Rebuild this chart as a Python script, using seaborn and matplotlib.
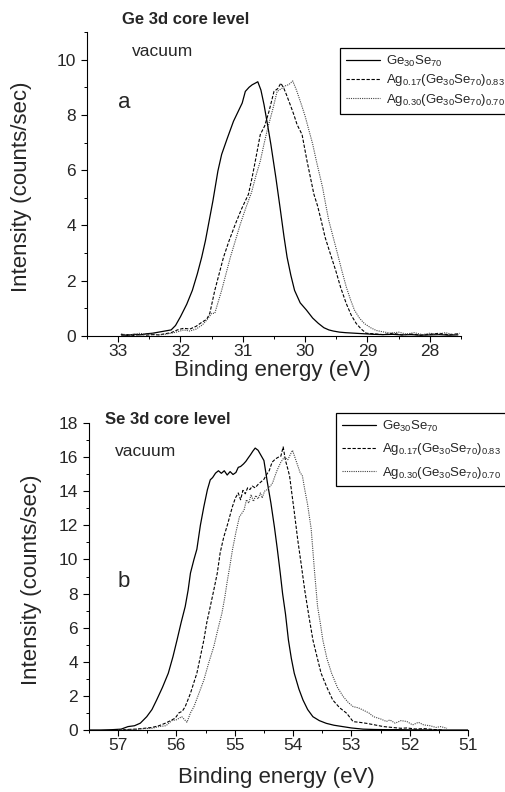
import matplotlib
matplotlib.use("Agg")
import matplotlib.pyplot as plt
from matplotlib.ticker import MultipleLocator
import numpy as np
import seaborn as sns

sns.set_style("ticks")
plt.rcParams['font.family'] = ['Liberation Sans', 'DejaVu Sans']
plt.rcParams['mathtext.fontset'] = 'custom'
plt.rcParams['mathtext.rm'] = 'Liberation Sans'

labels = [r'$\mathregular{Ge_{30}Se_{70}}$',
          r'$\mathregular{Ag_{0.17}(Ge_{30}Se_{70})_{0.83}}$',
          r'$\mathregular{Ag_{0.30}(Ge_{30}Se_{70})_{0.70}}$']

# ---- Ge 3d core level (panel a) ----
ge_x_0 = [32.95, 32.85, 32.75, 32.65, 32.55, 32.45, 32.35, 32.25, 32.15, 32.08,
          32.00, 31.90, 31.81, 31.73, 31.66, 31.60, 31.55, 31.48, 31.40, 31.34,
          31.25, 31.15, 31.08, 31.01, 30.96, 30.90, 30.85, 30.80, 30.76, 30.71,
          30.66, 30.60, 30.55, 30.47, 30.40, 30.34, 30.29, 30.23, 30.17, 30.08,
          29.98, 29.88, 29.79, 29.70, 29.62, 29.55, 29.45, 29.35, 29.20, 29.05,
          28.90, 28.75, 28.60, 28.45, 28.30, 28.15, 28.00, 27.85, 27.70, 27.55]
ge_y_0 = [0.05, 0.02, 0.06, 0.04, 0.08, 0.10, 0.14, 0.18, 0.22, 0.38,
          0.70, 1.15, 1.65, 2.25, 2.85, 3.45, 4.05, 4.89, 5.97, 6.57,
          7.15, 7.77, 8.10, 8.43, 8.85, 9.00, 9.09, 9.15, 9.20, 8.90,
          8.37, 7.60, 6.93, 5.73, 4.60, 3.60, 2.85, 2.20, 1.65, 1.20,
          0.94, 0.65, 0.46, 0.30, 0.22, 0.18, 0.14, 0.12, 0.10, 0.08,
          0.06, 0.05, 0.06, 0.04, 0.05, 0.03, 0.04, 0.05, 0.03, 0.04]

ge_x_1 = [32.95, 32.85, 32.75, 32.65, 32.55, 32.45, 32.35, 32.25, 32.15, 32.05,
          31.95, 31.85, 31.75, 31.65, 31.58, 31.53, 31.45, 31.38, 31.31, 31.22,
          31.12, 31.02, 30.91, 30.85, 30.80, 30.72, 30.65, 30.58, 30.50, 30.44,
          30.39, 30.34, 30.30, 30.24, 30.18, 30.13, 30.05, 29.97, 29.86, 29.80,
          29.74, 29.68, 29.60, 29.51, 29.43, 29.34, 29.26, 29.18, 29.10, 29.02,
          28.90, 28.75, 28.60, 28.45, 28.30, 28.15, 28.00, 27.85, 27.70, 27.55]
ge_y_1 = [0.03, 0.05, 0.02, 0.06, 0.03, 0.05, 0.04, 0.08, 0.12, 0.22,
          0.28, 0.25, 0.35, 0.51, 0.60, 0.82, 1.65, 2.25, 2.85, 3.45,
          4.05, 4.60, 5.13, 5.75, 6.33, 7.29, 7.60, 8.13, 8.85, 8.95,
          9.15, 8.95, 8.73, 8.37, 8.00, 7.65, 7.29, 6.33, 5.13, 4.70,
          4.15, 3.57, 3.00, 2.37, 1.75, 1.17, 0.75, 0.45, 0.25, 0.10,
          0.08, 0.05, 0.10, 0.04, 0.07, 0.03, 0.06, 0.10, 0.04, 0.08]

ge_x_2 = [32.95, 32.85, 32.75, 32.65, 32.55, 32.45, 32.35, 32.25, 32.15, 32.05,
          31.95, 31.85, 31.75, 31.65, 31.57, 31.50, 31.45, 31.40, 31.34, 31.27,
          31.20, 31.12, 31.04, 30.95, 30.86, 30.79, 30.72, 30.66, 30.60, 30.52,
          30.45, 30.38, 30.32, 30.26, 30.20, 30.14, 30.06, 30.00, 29.95, 29.88,
          29.82, 29.77, 29.72, 29.67, 29.62, 29.55, 29.48, 29.41, 29.34, 29.27,
          29.21, 29.13, 29.05, 28.95, 28.86, 28.75, 28.62, 28.50, 28.38, 28.25,
          28.12, 28.00, 27.88, 27.75, 27.62, 27.52]
ge_y_2 = [0.08, 0.03, 0.06, 0.10, 0.05, 0.08, 0.04, 0.06, 0.10, 0.15,
          0.22, 0.18, 0.25, 0.40, 0.60, 0.82, 0.82, 1.20, 1.65, 2.25,
          2.85, 3.45, 4.05, 4.65, 5.20, 5.80, 6.33, 6.95, 7.53, 8.20,
          8.85, 8.95, 9.05, 9.10, 9.23, 8.90, 8.37, 7.95, 7.53, 6.95,
          6.33, 5.85, 5.37, 4.75, 4.17, 3.57, 2.97, 2.35, 1.77, 1.30,
          0.94, 0.65, 0.45, 0.30, 0.20, 0.15, 0.10, 0.14, 0.07, 0.12,
          0.05, 0.10, 0.06, 0.12, 0.05, 0.10]

# ---- Se 3d core level (panel b) ----
se_x_0 = [57.50, 57.30, 57.10, 56.95, 56.83, 56.72, 56.62, 56.51, 56.42, 56.34,
          56.24, 56.14, 56.06, 55.99, 55.92, 55.85, 55.80, 55.76, 55.70, 55.65,
          55.59, 55.53, 55.47, 55.42, 55.38, 55.33, 55.28, 55.23, 55.18, 55.13,
          55.08, 55.03, 54.98, 54.94, 54.90, 54.85, 54.81, 54.77, 54.73, 54.69,
          54.65, 54.60, 54.55, 54.50, 54.44, 54.38, 54.32, 54.27, 54.22, 54.18,
          54.13, 54.08, 54.03, 53.98, 53.90, 53.83, 53.75, 53.66, 53.55, 53.43,
          53.30, 53.15, 53.00, 52.80, 52.60, 52.40, 52.20, 52.00, 51.80, 51.60,
          51.40, 51.20, 51.00]
se_y_0 = [0.00, 0.00, 0.02, 0.05, 0.20, 0.25, 0.40, 0.78, 1.20, 1.76,
          2.50, 3.33, 4.30, 5.28, 6.30, 7.24, 8.20, 9.20, 10.00, 10.60,
          12.00, 13.10, 14.08, 14.67, 14.80, 15.06, 15.20, 15.05, 15.20, 14.95,
          15.15, 14.98, 15.10, 15.40, 15.45, 15.60, 15.75, 15.95, 16.14, 16.35,
          16.53, 16.40, 16.10, 15.80, 14.50, 13.30, 11.90, 10.60, 9.20, 8.00,
          6.80, 5.28, 4.20, 3.33, 2.40, 1.76, 1.20, 0.78, 0.55, 0.39,
          0.28, 0.20, 0.12, 0.05, 0.03, 0.02, 0.02, 0.01, 0.01, 0.00,
          0.00, 0.00, 0.00]

se_x_1 = [57.00, 56.85, 56.70, 56.55, 56.42, 56.30, 56.19, 56.10, 56.02, 55.96,
          55.90, 55.85, 55.80, 55.76, 55.70, 55.65, 55.59, 55.53, 55.48, 55.42,
          55.36, 55.30, 55.25, 55.19, 55.12, 55.04, 54.99, 54.94, 54.90, 54.86,
          54.82, 54.78, 54.74, 54.70, 54.65, 54.60, 54.55, 54.50, 54.45, 54.41,
          54.36, 54.30, 54.25, 54.21, 54.17, 54.13, 54.09, 54.06, 54.03, 53.98,
          53.92, 53.86, 53.80, 53.73, 53.66, 53.59, 53.52, 53.42, 53.32, 53.20,
          53.08, 52.97, 52.86, 52.74, 52.60, 52.45, 52.30, 52.15, 52.05, 51.90,
          51.75, 51.60, 51.45]
se_y_1 = [0.00, 0.03, 0.05, 0.10, 0.15, 0.25, 0.40, 0.55, 0.70, 1.00,
          1.10, 1.37, 1.80, 2.15, 2.80, 3.33, 4.30, 5.28, 6.30, 7.24,
          8.20, 9.20, 10.40, 11.30, 12.10, 13.10, 13.60, 13.90, 13.50, 14.05,
          13.85, 14.20, 14.10, 14.30, 14.20, 14.40, 14.55, 14.70, 15.00, 15.20,
          15.70, 15.90, 16.00, 16.05, 16.60, 15.80, 15.30, 14.90, 14.10, 12.80,
          11.15, 9.70, 8.20, 6.70, 5.28, 4.30, 3.33, 2.50, 1.76, 1.30,
          0.98, 0.49, 0.45, 0.39, 0.30, 0.20, 0.15, 0.10, 0.12, 0.06,
          0.08, 0.03, 0.00]

se_x_2 = [57.00, 56.85, 56.70, 56.55, 56.42, 56.30, 56.18, 56.08, 56.00, 55.91,
          55.86, 55.82, 55.76, 55.70, 55.62, 55.53, 55.45, 55.36, 55.29, 55.22,
          55.17, 55.13, 55.08, 55.04, 54.98, 54.92, 54.84, 54.80, 54.76, 54.72,
          54.68, 54.64, 54.60, 54.56, 54.53, 54.49, 54.44, 54.39, 54.35, 54.31,
          54.27, 54.21, 54.15, 54.09, 54.04, 54.01, 53.96, 53.92, 53.88, 53.84,
          53.80, 53.75, 53.69, 53.63, 53.58, 53.53, 53.49, 53.42, 53.34, 53.24,
          53.14, 53.05, 52.97, 52.88, 52.80, 52.70, 52.62, 52.50, 52.40, 52.34,
          52.25, 52.15, 52.05, 51.95, 51.85, 51.76, 51.65, 51.55, 51.47, 51.36]
se_y_2 = [0.00, 0.02, 0.04, 0.08, 0.10, 0.20, 0.25, 0.55, 0.60, 0.78,
          0.60, 0.45, 1.00, 1.37, 2.10, 2.93, 3.90, 4.89, 5.90, 6.85,
          7.80, 8.70, 9.70, 10.56, 11.60, 12.50, 12.90, 13.50, 13.30, 13.80,
          13.40, 13.75, 13.55, 13.90, 13.60, 14.00, 14.10, 14.30, 14.50, 14.90,
          15.26, 15.70, 16.00, 15.85, 16.20, 16.40, 15.90, 15.50, 15.10, 14.90,
          14.10, 13.20, 11.80, 9.20, 7.24, 6.20, 5.28, 4.20, 3.33, 2.50,
          1.96, 1.60, 1.37, 1.30, 1.17, 1.00, 0.78, 0.65, 0.50, 0.59,
          0.40, 0.55, 0.50, 0.30, 0.45, 0.30, 0.25, 0.15, 0.20, 0.10]

styles = [dict(color="black", linestyle="-", linewidth=0.9),
          dict(color="black", linestyle=(0, (3, 1.5)), linewidth=0.8),
          dict(color="#444444", linestyle=(0, (1, 1)), linewidth=0.8)]

W, H = 505, 792
fig = plt.figure(figsize=(W / 100, H / 100), dpi=100)

panels = [
    dict(rect=[87 / W, 1 - 336 / H, 374 / W, 304 / H], xs=[ge_x_0, ge_x_1, ge_x_2],
         ys=[ge_y_0, ge_y_1, ge_y_2], xlim=(33.5, 27.5), ylim=(0, 11), ymax_tick=10,
         title="Ge 3d core level", title_xy=(122, 20), vac_xy=(132, 52),
         letter="a", letter_xy=(118, 108), leg_xy=(340, 48), labelspacing=0.25,
         xlab_y=-0.08, ylab_x=-0.148),
    dict(rect=[89 / W, 1 - 730 / H, 379 / W, 307 / H], xs=[se_x_0, se_x_1, se_x_2],
         ys=[se_y_0, se_y_1, se_y_2], xlim=(57.5, 51.0), ylim=(0, 18), ymax_tick=18,
         title="Se 3d core level", title_xy=(105, 420), vac_xy=(115, 452),
         letter="b", letter_xy=(118, 587), leg_xy=(336, 413), labelspacing=0.55,
         xlab_y=-0.12, ylab_x=-0.124),
]

for p in panels:
    ax = fig.add_axes(p["rect"])
    for i in range(3):
        sns.lineplot(x=p["xs"][i], y=p["ys"][i], ax=ax, label=labels[i],
                     sort=False, **styles[i])
    ax.set_xlim(*p["xlim"])
    ax.set_ylim(*p["ylim"])
    ax.set_yticks(np.arange(0, p["ymax_tick"] + 1, 2))
    ax.xaxis.set_major_locator(MultipleLocator(1))
    ax.xaxis.set_minor_locator(MultipleLocator(0.5))
    ax.yaxis.set_minor_locator(MultipleLocator(1))
    ax.tick_params(axis="both", which="major", direction="out", length=4, width=0.8,
                   labelsize=12.5, color="black")
    ax.tick_params(axis="both", which="minor", direction="out", length=2.5, width=0.7,
                   color="black")
    ax.tick_params(axis="x", pad=2)
    ax.tick_params(axis="y", pad=4)
    sns.despine(ax=ax)
    for s in ["left", "bottom"]:
        ax.spines[s].set_color("black")
        ax.spines[s].set_linewidth(0.8)

    ax.set_xlabel("Binding energy (eV)", fontsize=16)
    ax.set_ylabel("Intensity (counts/sec)", fontsize=16)
    ax.xaxis.set_label_coords(0.495, p["xlab_y"])
    ax.yaxis.set_label_coords(p["ylab_x"], 0.49)

    fig.text(p["title_xy"][0] / W, 1 - p["title_xy"][1] / H, p["title"],
             fontsize=12, fontweight="bold", va="center", ha="left")
    fig.text(p["vac_xy"][0] / W, 1 - p["vac_xy"][1] / H, "vacuum",
             fontsize=12.5, va="center", ha="left")
    fig.text(p["letter_xy"][0] / W, 1 - p["letter_xy"][1] / H, p["letter"],
             fontsize=16, va="baseline", ha="left")

    leg = ax.legend(loc="upper left",
                    bbox_to_anchor=(p["leg_xy"][0] / W, 1 - p["leg_xy"][1] / H),
                    bbox_transform=fig.transFigure, frameon=True, fancybox=False,
                    fontsize=9.5, handlelength=2.6, handletextpad=0.4,
                    borderpad=0.45, labelspacing=p["labelspacing"], borderaxespad=0)
    leg.get_frame().set_edgecolor("black")
    leg.get_frame().set_linewidth(0.9)
    leg.get_frame().set_alpha(1)

fig.savefig("out.png", dpi=100)
